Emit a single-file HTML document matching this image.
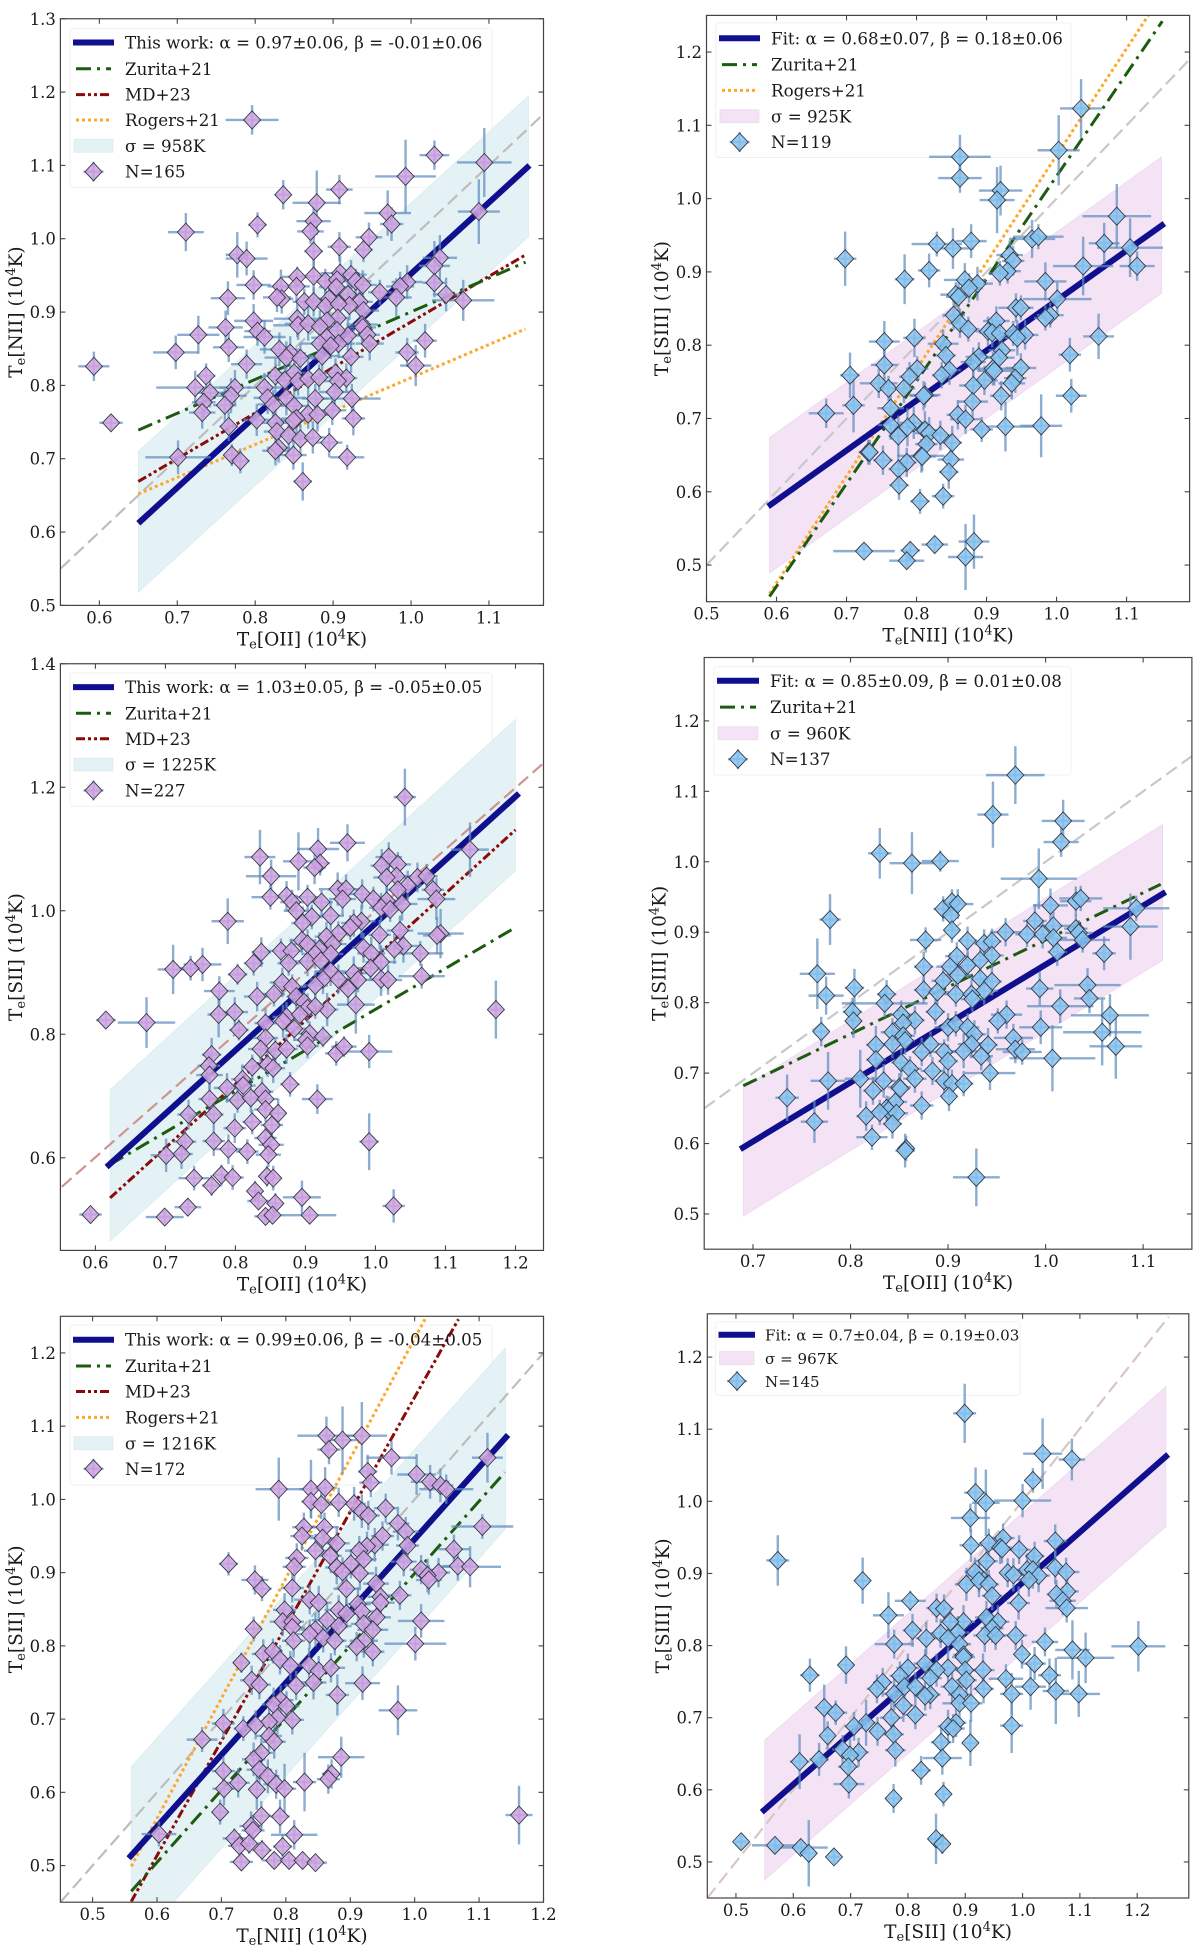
<!DOCTYPE html>
<html><head><meta charset="utf-8"><title>Electron temperature relations</title>
<style>html,body{margin:0;padding:0;background:#fff}svg{display:block}text{font-family:"DejaVu Serif","Liberation Serif",serif;fill:#1a1a1a}</style>
</head><body>
<svg id="fig" width="1200" height="1952" viewBox="0 0 1200 1952" xmlns="http://www.w3.org/2000/svg"></svg>
<script>
// Each point row: [x, y, xError, yError], in units of 10^4 K
const niiVsOiiPoints = [[.796,1.162,.034,.020],[1.094,1.104,.035,.047],[1.030,1.114,.019,.020],[.993,1.085,.039,.050],[.908,1.067,.017,.020],[.836,1.060,.010,.020],[.879,1.049,.031,.044],[1.087,1.037,.027,.044],[.970,1.035,.030,.031],[.875,1.024,.022,.023],[.975,1.020,.015,.023],[.803,1.019,.012,.017],[.711,1.009,.023,.026],[.871,1.010,.017,.017],[.946,1.002,.017,.020],[.908,.989,.015,.020],[.939,.985,.012,.017],[.875,.983,.012,.023],[.777,.978,.015,.031],[.789,.973,.027,.023],[1.037,.974,.022,.031],[1.030,.963,.020,.034],[.854,.948,.020,.014],[.909,.953,.025,.023],[.875,.949,.017,.023],[.923,.951,.020,.020],[.890,.942,.017,.017],[.798,.937,.022,.020],[.833,.935,.017,.023],[.853,.935,.017,.020],[.905,.944,.015,.017],[.929,.942,.020,.017],[.938,.937,.018,.020],[.904,.934,.022,.025],[.995,.941,.020,.023],[.986,.935,.018,.020],[1.030,.940,.015,.020],[.960,.927,.015,.017],[1.045,.924,.017,.023],[.919,.924,.020,.020],[1.067,.916,.040,.028],[.981,.920,.020,.026],[.765,.919,.022,.023],[.834,.918,.015,.020],[.828,.920,.018,.020],[.863,.914,.015,.018],[.875,.914,.020,.020],[.895,.918,.022,.025],[.934,.914,.017,.020],[.890,.908,.025,.023],[.921,.909,.018,.020],[.907,.911,.020,.022],[.939,.902,.020,.020],[.906,.892,.015,.022],[.798,.888,.025,.023],[.854,.891,.030,.025],[.855,.882,.032,.020],[.868,.884,.030,.023],[.892,.888,.018,.020],[.883,.880,.024,.022],[.937,.883,.020,.023],[.938,.879,.017,.020],[.762,.879,.022,.023],[.803,.874,.017,.020],[.812,.866,.027,.023],[.727,.869,.027,.026],[.944,.869,.016,.020],[.919,.868,.022,.023],[.892,.865,.020,.022],[.905,.875,.023,.020],[.947,.857,.018,.023],[.907,.857,.021,.020],[.883,.857,.025,.023],[.897,.854,.020,.018],[.766,.852,.020,.020],[.831,.849,.025,.023],[.698,.845,.029,.023],[.995,.845,.015,.020],[1.018,.861,.015,.023],[.886,.840,.022,.020],[.845,.844,.020,.023],[.840,.838,.028,.022],[.858,.837,.025,.020],[.923,.839,.016,.022],[.789,.829,.020,.020],[1.006,.827,.020,.028],[.593,.826,.020,.020],[.737,.813,.012,.017],[.826,.813,.017,.024],[.850,.817,.020,.022],[.903,.817,.018,.020],[.917,.810,.014,.020],[.838,.807,.017,.023],[.855,.806,.024,.020],[.868,.809,.021,.025],[.882,.811,.016,.018],[.906,.806,.018,.020],[.723,.797,.050,.023],[.774,.797,.020,.024],[.812,.797,.022,.020],[.902,.791,.020,.023],[.742,.790,.020,.020],[.769,.786,.020,.024],[.816,.783,.018,.022],[.877,.782,.017,.020],[.924,.782,.037,.020],[.840,.783,.025,.024],[.734,.777,.015,.020],[.761,.773,.015,.022],[.823,.774,.020,.020],[.850,.772,.017,.024],[.899,.766,.018,.020],[.732,.763,.017,.022],[.868,.761,.018,.020],[.880,.760,.017,.023],[.853,.755,.020,.025],[.802,.753,.017,.022],[.926,.755,.015,.023],[.615,.749,.015,.010],[.766,.744,.012,.020],[.826,.749,.018,.020],[.849,.752,.020,.022],[.828,.737,.017,.020],[.843,.732,.020,.024],[.858,.727,.018,.020],[.874,.729,.016,.022],[.895,.722,.017,.020],[.830,.715,.015,.020],[.826,.711,.017,.020],[.849,.705,.017,.020],[.770,.705,.010,.015],[.918,.702,.022,.017],[.701,.702,.042,.023],[.781,.697,.012,.017],[.861,.669,.012,.026]];
const siiiVsNiiPoints = [[1.035,1.123,.030,.040],[1.003,1.066,.030,.048],[.862,1.057,.044,.030],[.862,1.028,.031,.020],[.920,1.011,.031,.034],[.915,.998,.025,.045],[1.086,.976,.049,.044],[.965,.945,.033,.026],[.974,.948,.036,.017],[.878,.942,.022,.023],[.829,.938,.036,.017],[.852,.932,.030,.028],[1.068,.939,.022,.028],[1.105,.933,.047,.040],[1.038,.908,.043,.040],[1.115,.908,.025,.020],[.698,.918,.016,.037],[.818,.902,.016,.023],[.933,.923,.019,.020],[.938,.915,.016,.020],[.930,.901,.019,.017],[.919,.898,.016,.017],[.783,.890,.014,.034],[.869,.889,.030,.023],[.887,.884,.022,.023],[.875,.878,.020,.020],[.856,.869,.022,.017],[.860,.866,.018,.020],[.984,.887,.030,.026],[1.001,.863,.049,.023],[.942,.851,.025,.020],[.949,.851,.014,.017],[.853,.841,.016,.020],[.991,.841,.019,.017],[.984,.837,.016,.017],[.862,.830,.016,.020],[.874,.822,.016,.017],[.914,.833,.019,.020],[.902,.819,.018,.020],[.908,.817,.019,.020],[.919,.816,.020,.018],[.938,.816,.019,.017],[.955,.814,.019,.020],[.944,.810,.020,.024],[1.060,.812,.022,.031],[.797,.810,.016,.026],[.754,.805,.022,.028],[.838,.802,.022,.020],[.922,.793,.019,.017],[.842,.786,.014,.017],[1.019,.787,.016,.023],[.889,.784,.019,.020],[.918,.783,.022,.017],[.881,.777,.018,.020],[.754,.773,.019,.023],[.705,.759,.014,.031],[.801,.768,.016,.017],[.909,.768,.027,.023],[.911,.765,.024,.020],[.949,.769,.022,.020],[.847,.766,.016,.020],[.836,.759,.014,.018],[.790,.757,.015,.020],[.941,.755,.016,.020],[.897,.752,.019,.020],[.936,.748,.019,.022],[.746,.748,.027,.020],[.760,.741,.016,.017],[.881,.745,.020,.020],[.782,.741,.016,.020],[.812,.732,.022,.017],[.810,.731,.020,.020],[.921,.731,.016,.020],[1.021,.731,.022,.023],[.880,.723,.022,.023],[.710,.718,.016,.037],[.763,.714,.019,.020],[.671,.707,.025,.020],[.859,.705,.016,.020],[.870,.699,.022,.020],[.796,.694,.020,.022],[.763,.691,.018,.020],[.787,.688,.020,.026],[.893,.685,.016,.017],[.927,.689,.041,.034],[.978,.690,.030,.043],[.812,.684,.019,.026],[.818,.680,.020,.022],[.834,.677,.016,.020],[.774,.676,.014,.028],[.851,.667,.014,.023],[.814,.665,.016,.022],[.731,.654,.014,.017],[.733,.654,.012,.017],[.752,.643,.014,.020],[.849,.644,.019,.023],[.807,.649,.033,.023],[.808,.648,.020,.020],[.786,.640,.014,.020],[.774,.631,.014,.020],[.846,.627,.014,.023],[.775,.609,.014,.020],[.838,.594,.016,.017],[.805,.587,.014,.017],[.725,.519,.044,.010],[.791,.520,.014,.012],[.786,.506,.025,.010],[.826,.528,.019,.012],[.882,.532,.022,.037],[.870,.511,.025,.045]];
const siiVsOiiPoints = [[1.042,1.184,.016,.046],[.960,1.110,.025,.030],[1.135,1.099,.027,.044],[.918,1.100,.030,.034],[.835,1.087,.022,.044],[.890,1.080,.022,.047],[.921,1.077,.014,.020],[1.019,1.087,.019,.024],[.913,1.070,.016,.027],[1.009,1.073,.016,.027],[1.032,1.075,.019,.020],[1.030,1.056,.022,.024],[1.016,1.054,.019,.027],[.851,1.056,.036,.027],[1.060,1.054,.022,.024],[1.073,1.056,.016,.020],[1.046,1.041,.020,.024],[1.032,1.034,.017,.022],[.946,1.035,.027,.027],[.958,1.035,.025,.024],[1.082,1.034,.016,.024],[.873,1.024,.016,.024],[.850,1.022,.027,.020],[.903,1.022,.019,.020],[.953,1.019,.019,.027],[.981,1.027,.019,.024],[.997,1.019,.019,.020],[1.087,1.019,.027,.034],[.923,1.014,.016,.020],[1.016,1.016,.020,.024],[.881,1.014,.017,.020],[.887,1.000,.018,.024],[1.038,1.011,.022,.027],[1.008,1.005,.017,.024],[1.021,1.002,.019,.020],[.909,.990,.016,.020],[.936,.992,.019,.024],[.980,.983,.020,.027],[.969,.980,.018,.022],[.964,.973,.019,.020],[.896,.980,.016,.027],[.789,.983,.023,.037],[1.093,.963,.033,.040],[1.088,.960,.020,.030],[1.006,.961,.016,.024],[1.035,.968,.019,.024],[.947,.963,.020,.020],[.930,.958,.017,.024],[.895,.952,.018,.020],[.903,.946,.020,.024],[.983,.940,.016,.024],[1.040,.943,.022,.027],[1.027,.938,.020,.024],[.865,.935,.019,.020],[.880,.935,.016,.020],[.837,.933,.014,.024],[.920,.938,.017,.027],[.939,.946,.020,.022],[.914,.930,.020,.024],[.936,.930,.018,.020],[.994,.931,.020,.027],[1.064,.931,.033,.020],[.826,.915,.014,.020],[.876,.915,.016,.020],[.903,.918,.020,.024],[.922,.919,.017,.020],[1.008,.917,.022,.027],[.753,.913,.027,.027],[.711,.905,.022,.040],[.736,.907,.016,.020],[.803,.897,.014,.017],[.936,.902,.022,.024],[.969,.899,.020,.027],[.993,.907,.018,.020],[.925,.889,.019,.024],[.947,.889,.020,.024],[.975,.888,.022,.020],[1.008,.889,.016,.027],[1.018,.888,.020,.024],[1.066,.894,.033,.020],[.867,.884,.018,.024],[.881,.877,.020,.020],[.961,.874,.014,.027],[.914,.879,.018,.024],[.777,.870,.022,.024],[.831,.861,.019,.024],[.855,.865,.016,.020],[.887,.861,.014,.024],[.931,.840,.016,.027],[.972,.848,.027,.047],[.898,.852,.018,.020],[.903,.842,.016,.024],[.914,.845,.018,.020],[.776,.832,.016,.037],[.799,.836,.019,.024],[.873,.828,.020,.024],[.892,.832,.018,.020],[.868,.821,.017,.027],[.673,.819,.041,.041],[.615,.823,.014,.010],[1.172,.840,.008,.047],[.843,.818,.016,.024],[.805,.807,.014,.017],[.884,.809,.016,.020],[.906,.801,.016,.020],[.925,.796,.014,.017],[.843,.794,.018,.024],[.901,.791,.017,.020],[.903,.781,.016,.020],[.836,.776,.018,.024],[.857,.774,.020,.020],[.873,.776,.016,.024],[.944,.769,.016,.020],[.955,.780,.018,.017],[.991,.772,.033,.027],[.766,.767,.014,.027],[.762,.749,.016,.024],[.846,.751,.018,.020],[.854,.745,.017,.024],[.824,.747,.016,.020],[.763,.734,.019,.024],[.878,.719,.014,.020],[.810,.727,.016,.024],[.788,.713,.019,.024],[.811,.717,.018,.020],[.838,.707,.016,.024],[.917,.695,.022,.024],[.763,.695,.016,.027],[.803,.693,.017,.020],[.822,.697,.016,.024],[.843,.695,.018,.020],[.843,.678,.016,.020],[.861,.672,.011,.024],[.733,.670,.016,.024],[.769,.670,.014,.020],[.824,.658,.014,.020],[.852,.653,.016,.024],[.799,.648,.016,.024],[.843,.632,.016,.020],[.991,.626,.014,.046],[.728,.626,.016,.020],[.769,.627,.016,.024],[.790,.614,.019,.024],[.851,.621,.018,.020],[.817,.610,.016,.020],[.723,.606,.016,.024],[.701,.604,.022,.027],[.847,.605,.018,.020],[.741,.567,.022,.020],[.780,.572,.011,.017],[.796,.568,.016,.020],[.845,.570,.011,.017],[.854,.567,.012,.020],[.766,.555,.014,.017],[.828,.546,.011,.017],[.895,.536,.027,.027],[.833,.530,.016,.014],[.857,.526,.011,.017],[.732,.520,.019,.014],[1.026,.522,.016,.027],[.593,.508,.016,.010],[.699,.504,.027,.010],[.843,.505,.016,.010],[.853,.507,.016,.010],[.906,.507,.038,.010]];
const siiiVsOiiPoints = [[.969,1.123,.030,.041],[.946,1.067,.016,.047],[1.018,1.058,.022,.030],[1.016,1.028,.018,.021],[.830,1.012,.012,.036],[.863,.998,.023,.044],[.892,1.001,.019,.015],[.993,.976,.039,.043],[1.031,.944,.016,.021],[1.036,.948,.022,.018],[1.005,.938,.018,.024],[.895,.933,.010,.018],[.904,.943,.010,.018],[.910,.940,.016,.021],[.903,.924,.008,.018],[1.093,.934,.034,.018],[.779,.918,.011,.036],[.989,.916,.012,.024],[1.008,.909,.018,.020],[1.087,.908,.028,.047],[1.031,.905,.012,.020],[1.034,.899,.014,.018],[.904,.903,.008,.018],[.959,.900,.016,.020],[.981,.897,.012,.018],[.997,.897,.012,.020],[1.008,.892,.014,.018],[1.038,.889,.028,.018],[.920,.888,.010,.020],[.877,.889,.016,.018],[.937,.884,.010,.020],[.945,.887,.010,.018],[1.012,.872,.010,.020],[1.060,.870,.012,.024],[.909,.866,.012,.020],[.945,.867,.012,.018],[.875,.851,.010,.021],[.902,.851,.014,.020],[.920,.853,.012,.018],[.933,.860,.014,.020],[.910,.839,.014,.020],[.766,.841,.018,.050],[.895,.831,.012,.020],[.933,.834,.010,.018],[.945,.830,.010,.020],[1.043,.825,.034,.024],[.804,.821,.010,.027],[.837,.812,.010,.020],[.875,.818,.010,.020],[.889,.815,.012,.018],[.775,.810,.018,.027],[.994,.820,.014,.024],[.937,.817,.014,.020],[.908,.812,.012,.018],[.924,.812,.010,.020],[1.045,.806,.016,.021],[.835,.799,.044,.020],[.925,.805,.012,.018],[.802,.787,.010,.020],[.887,.787,.010,.018],[1.015,.795,.034,.024],[1.066,.782,.040,.030],[.852,.783,.012,.020],[.960,.783,.016,.020],[.951,.774,.010,.018],[.803,.774,.008,.024],[.866,.775,.010,.020],[.854,.771,.012,.020],[.770,.759,.008,.021],[.843,.758,.012,.020],[.900,.765,.014,.020],[.908,.770,.012,.018],[.920,.765,.012,.020],[.995,.765,.022,.024],[1.058,.758,.040,.047],[.927,.755,.012,.020],[.854,.753,.012,.018],[.856,.746,.010,.020],[.967,.750,.020,.020],[.826,.740,.010,.027],[.843,.741,.012,.020],[.882,.741,.012,.018],[.924,.741,.014,.020],[.941,.740,.010,.024],[1.072,.738,.027,.046],[.873,.730,.010,.020],[.896,.730,.012,.018],[.916,.731,.014,.024],[.969,.734,.020,.020],[.976,.730,.020,.018],[.934,.724,.012,.020],[.900,.717,.010,.024],[.826,.719,.010,.027],[1.007,.721,.044,.047],[.852,.715,.010,.020],[.861,.706,.012,.018],[.884,.703,.012,.020],[.943,.700,.026,.024],[.777,.689,.018,.041],[.810,.692,.016,.041],[.866,.692,.012,.020],[.896,.689,.010,.020],[.834,.689,.012,.024],[.904,.685,.012,.020],[.916,.685,.010,.018],[.850,.680,.012,.020],[.851,.678,.010,.018],[.823,.675,.010,.020],[.901,.667,.008,.021],[.735,.665,.012,.033],[.846,.659,.012,.020],[.873,.654,.012,.020],[.837,.650,.010,.018],[.839,.647,.012,.020],[.816,.639,.010,.021],[.830,.644,.012,.018],[.847,.643,.012,.020],[.763,.631,.014,.030],[.843,.628,.010,.021],[.822,.609,.016,.018],[.857,.593,.008,.018],[.856,.590,.010,.024],[.929,.552,.024,.041]];
const siiVsNiiPoints = [[.863,1.087,.045,.026],[.888,1.081,.024,.046],[.918,1.087,.039,.046],[.867,1.068,.018,.020],[.964,1.057,.039,.023],[1.113,1.057,.024,.034],[.927,1.038,.015,.023],[1.003,1.034,.030,.028],[1.024,1.024,.030,.023],[.932,1.023,.018,.020],[.839,1.014,.018,.040],[.861,1.016,.018,.028],[.789,1.014,.036,.043],[1.040,1.019,.020,.023],[1.049,1.014,.042,.020],[.839,.997,.015,.023],[.855,.993,.018,.020],[.882,.996,.021,.020],[.906,.994,.018,.023],[.918,.984,.020,.023],[.928,.978,.018,.020],[.955,.988,.018,.020],[.974,.967,.018,.023],[.828,.962,.018,.020],[.860,.962,.022,.020],[1.105,.963,.048,.017],[.986,.956,.020,.020],[.825,.950,.018,.020],[.857,.947,.020,.023],[.950,.950,.018,.020],[.879,.940,.020,.023],[.989,.937,.018,.020],[.938,.938,.022,.023],[.926,.936,.020,.020],[.846,.930,.018,.023],[.914,.930,.022,.020],[1.061,.932,.024,.020],[.869,.923,.018,.020],[.817,.920,.018,.020],[.921,.918,.020,.023],[.983,.915,.020,.020],[.711,.912,.015,.016],[1.067,.909,.024,.020],[1.086,.908,.048,.028],[.813,.908,.018,.020],[.901,.912,.020,.020],[.879,.907,.018,.023],[.888,.901,.020,.020],[.915,.899,.022,.023],[1.010,.904,.018,.020],[1.037,.900,.018,.020],[1.020,.896,.018,.023],[1.022,.890,.020,.020],[.752,.890,.021,.020],[.763,.878,.015,.017],[.810,.879,.018,.020],[.894,.878,.020,.020],[.940,.885,.020,.023],[.977,.869,.018,.020],[.947,.867,.020,.023],[.947,.859,.022,.020],[.837,.863,.024,.020],[.851,.859,.020,.023],[.882,.849,.022,.020],[.912,.857,.020,.023],[.918,.847,.022,.020],[.798,.849,.018,.023],[.894,.844,.020,.020],[.864,.835,.024,.023],[.941,.839,.022,.020],[.795,.833,.020,.020],[.810,.833,.018,.023],[1.010,.834,.036,.023],[.921,.830,.020,.020],[.750,.823,.012,.017],[.810,.825,.020,.020],[.846,.822,.022,.023],[.837,.816,.020,.020],[.935,.822,.024,.023],[.882,.827,.020,.020],[.812,.807,.018,.023],[.858,.811,.022,.020],[.876,.807,.018,.020],[.921,.807,.022,.023],[.910,.799,.018,.020],[1.001,.803,.048,.023],[.935,.792,.018,.020],[.765,.789,.018,.020],[.780,.793,.015,.017],[.791,.781,.018,.020],[.731,.777,.012,.014],[.807,.773,.020,.020],[.836,.774,.020,.023],[.851,.766,.018,.020],[.870,.770,.022,.020],[.747,.753,.018,.020],[.759,.747,.018,.020],[.816,.746,.018,.020],[.843,.750,.020,.023],[.919,.749,.027,.023],[.880,.733,.018,.028],[.792,.726,.020,.020],[.781,.720,.018,.023],[.801,.718,.020,.020],[.787,.702,.022,.023],[.810,.699,.018,.020],[.974,.712,.030,.034],[.774,.696,.018,.020],[.703,.694,.018,.020],[.734,.687,.015,.017],[.753,.692,.018,.020],[.670,.672,.024,.017],[.774,.677,.020,.020],[.782,.669,.018,.023],[.762,.654,.018,.020],[.750,.645,.018,.023],[.886,.648,.036,.028],[.759,.631,.020,.020],[.772,.622,.018,.023],[.703,.629,.018,.020],[.726,.613,.018,.020],[.704,.605,.018,.023],[.785,.611,.020,.020],[.798,.605,.018,.034],[.755,.604,.012,.028],[.829,.614,.018,.040],[.871,.625,.015,.020],[.866,.618,.018,.020],[.698,.573,.012,.017],[.762,.568,.015,.020],[.791,.567,.015,.023],[.746,.554,.018,.020],[.749,.548,.018,.020],[.603,.543,.027,.017],[.813,.542,.036,.020],[.720,.537,.018,.014],[.728,.527,.018,.017],[.743,.530,.018,.014],[.795,.526,.015,.017],[.763,.521,.015,.014],[.731,.505,.018,.010],[.782,.507,.018,.010],[.805,.507,.018,.010],[.826,.507,.018,.010],[.846,.504,.018,.008],[1.162,.569,.021,.040]];
const siiiVsSiiPoints = [[.899,1.122,.020,.041],[1.035,1.066,.034,.049],[1.086,1.058,.023,.029],[1.018,1.029,.010,.017],[.918,1.012,.020,.035],[.936,.998,.024,.046],[1.000,1.001,.050,.023],[.909,.977,.034,.020],[.966,.949,.020,.020],[1.057,.945,.020,.023],[.910,.939,.020,.023],[.941,.942,.017,.020],[.961,.936,.020,.023],[.964,.934,.018,.020],[.994,.933,.020,.020],[1.021,.924,.017,.020],[.573,.918,.020,.035],[.937,.917,.020,.023],[1.057,.908,.020,.023],[1.076,.902,.023,.020],[.974,.901,.013,.020],[.984,.898,.020,.023],[1.008,.905,.020,.023],[1.018,.905,.013,.026],[1.028,.897,.020,.023],[1.011,.891,.020,.023],[.721,.890,.013,.032],[.924,.897,.020,.023],[.917,.902,.018,.020],[.902,.885,.020,.023],[.924,.890,.020,.023],[.941,.885,.018,.020],[1.078,.875,.020,.023],[1.059,.871,.017,.020],[.947,.869,.018,.020],[1.070,.862,.023,.020],[.804,.862,.027,.014],[1.077,.852,.037,.020],[.993,.859,.020,.023],[.850,.852,.018,.020],[.863,.851,.017,.020],[.766,.842,.027,.032],[.897,.833,.020,.023],[.937,.839,.020,.023],[.874,.833,.018,.020],[.957,.833,.020,.023],[.808,.821,.017,.023],[.857,.817,.018,.020],[.887,.818,.020,.023],[.947,.824,.020,.020],[.832,.810,.018,.023],[.988,.814,.020,.020],[.934,.814,.020,.023],[.953,.814,.018,.020],[.870,.810,.020,.020],[1.039,.805,.023,.020],[.776,.802,.034,.020],[.890,.802,.020,.023],[1.087,.794,.030,.041],[1.202,.799,.047,.035],[.897,.787,.018,.020],[.897,.784,.020,.023],[.999,.788,.013,.020],[1.110,.783,.050,.035],[1.021,.775,.020,.023],[.692,.773,.013,.026],[.830,.775,.020,.020],[.870,.769,.018,.023],[.800,.769,.020,.020],[.850,.766,.020,.023],[.900,.766,.018,.020],[.931,.766,.020,.023],[.629,.759,.017,.023],[1.047,.759,.020,.023],[.786,.758,.018,.020],[.839,.755,.020,.023],[.971,.754,.030,.020],[.902,.752,.018,.023],[.756,.749,.017,.020],[.746,.740,.018,.020],[.794,.743,.020,.023],[.813,.743,.018,.020],[.877,.743,.020,.023],[.932,.740,.018,.020],[1.014,.743,.027,.032],[1.058,.737,.023,.046],[1.098,.733,.037,.032],[.981,.733,.020,.029],[.776,.733,.018,.023],[.839,.732,.018,.020],[.830,.730,.020,.020],[.890,.732,.020,.023],[.890,.720,.030,.023],[.910,.720,.020,.026],[.792,.717,.018,.023],[.654,.714,.017,.032],[.674,.707,.020,.017],[.813,.704,.020,.020],[.771,.700,.020,.023],[.884,.693,.018,.020],[.981,.689,.020,.038],[.727,.693,.017,.032],[.706,.688,.017,.020],[.870,.688,.018,.023],[.879,.685,.020,.020],[.747,.681,.013,.020],[.660,.675,.013,.020],[.775,.677,.018,.023],[.858,.666,.018,.020],[.909,.665,.013,.032],[.686,.656,.018,.020],[.778,.655,.018,.023],[.714,.652,.018,.020],[.699,.648,.018,.023],[.860,.644,.034,.023],[.611,.639,.017,.038],[.645,.642,.017,.023],[.696,.632,.018,.023],[.823,.627,.017,.020],[.697,.608,.027,.020],[.862,.594,.013,.017],[.775,.588,.013,.020],[.849,.532,.013,.035],[.860,.525,.012,.014],[.509,.528,.010,.010],[.568,.523,.040,.010],[.613,.520,.047,.010],[.627,.512,.013,.046],[.671,.507,.010,.010]];

// Fit and literature relations as [x, y] vertices, in units of 10^4 K
const p1Fit=[[.65,.612],[1.152,1.10]], p1BandUpper=[[.65,.71],[1.151,1.195]], p1BandLower=[[.65,.518],[1.151,1.003]], p1Zurita=[[.65,.739],[1.147,.968]], p1Md=[[.65,.669],[1.147,.978]], p1Rogers=[[.65,.652],[.828,.732],[.946,.786],[1.147,.877]], p1Unity=[[.55,.55],[1.17,1.17]];
const p2Fit=[[.588,.58],[1.154,.966]], p2BandUpper=[[.59,.674],[1.15,1.057]], p2BandLower=[[.59,.489],[1.15,.871]], p2Zurita=[[.59,.457],[1.151,1.242]], p2Rogers=[[.59,.461],[1.131,1.25]], p2Unity=[[.5,.5],[1.19,1.19]];
const p3Fit=[[.616,.585],[1.205,1.19]], p3BandUpper=[[.621,.71],[1.2,1.31]], p3BandLower=[[.621,.465],[1.2,1.065]], p3Zurita=[[.621,.589],[1.2,.973]], p3Md=[[.621,.535],[1.2,1.131]], p3Unity=[[.552,.553],[1.238,1.237]];
const p4Fit=[[.687,.592],[1.123,.957]], p4BandUpper=[[.69,.679],[1.12,1.053]], p4BandLower=[[.69,.497],[1.12,.86]], p4Zurita=[[.69,.682],[1.118,.968]], p4Unity=[[.65,.65],[1.15,1.15]];
const p5Fit=[[.556,.51],[1.145,1.088]], p5BandUpper=[[.56,.635],[1.141,1.207]], p5BandLower=[[.56,.385],[1.141,.96]], p5Zurita=[[.56,.465],[1.14,1.037]], p5Md=[[.56,.451],[1.068,1.246]], p5Rogers=[[.56,.499],[1.016,1.246]], p5Unity=[[.45,.45],[1.2,1.2]];
const p6Fit=[[.545,.569],[1.254,1.065]], p6BandUpper=[[.55,.669],[1.25,1.159]], p6BandLower=[[.55,.475],[1.25,.965]], p6Unity=[[.45,.45],[1.255,1.256]];

// Tick labels
const tickSetP1X=[.6,.7,.8,.9,1.0,1.1], tickSetP1Y=[.5,.6,.7,.8,.9,1.0,1.1,1.2,1.3];
const tickSetP2X=[.5,.6,.7,.8,.9,1.0,1.1], tickSetP2Y=[.5,.6,.7,.8,.9,1.0,1.1,1.2];
const tickSetP3X=[.6,.7,.8,.9,1.0,1.1,1.2], tickSetP3Y=[.6,.8,1.0,1.2,1.4];
const tickSetP4X=[.7,.8,.9,1.0,1.1], tickSetP4Y=[.5,.6,.7,.8,.9,1.0,1.1,1.2];
const tickSetP5X=[.5,.6,.7,.8,.9,1.0,1.1,1.2], tickSetP5Y=[.5,.6,.7,.8,.9,1.0,1.1,1.2];
const tickSetP6X=[.5,.6,.7,.8,.9,1.0,1.1,1.2], tickSetP6Y=[.5,.6,.7,.8,.9,1.0,1.1,1.2];

const NS='http://www.w3.org/2000/svg';
const fig=document.getElementById('fig');
const NAVY='#10108f',GREEN='#1c5c0e',RED='#8b0a0a',ORANGE='#ffa72a',PINK='#f3e3f5',AQUA='#e5f2f5',VIOLET='rgba(208,162,226,.85)',SKY='rgba(135,195,240,.85)';
function make(tag,attrs,parent){const e=document.createElementNS(NS,tag);for(const k in attrs)e.setAttribute(k,attrs[k]);parent.appendChild(e);return e;}

const panels=[
{id:'nii-oii',L:60.4,R:543.5,T:18.75,B:605.4,x0:.55,x1:1.17,y0:.5,y1:1.3,xt:tickSetP1X,yt:tickSetP1Y,xl:'[OII] (10',yl:'[NII] (10',pts:niiVsOiiPoints,fit:p1Fit,up:p1BandUpper,lo:p1BandLower,zur:p1Zurita,md:p1Md,rog:p1Rogers,uni:p1Unity,uniC:'#bdbdbd',band:AQUA,mk:VIOLET,
 leg:{x0:70,x1:492,y0:28.3,y1:187.5,hx0:73,hx1:114,tx:125,mx:93.5,fs:16.7,rows:[42.5,68.75,94.6,120,145.8,171.7],labels:['This work: α = 0.97±0.06, β = -0.01±0.06','Zurita+21','MD+23','Rogers+21','σ = 958K','N=165'],kinds:['fit','zur','md','rog','band','pt']}},
{id:'siii-nii',L:706.5,R:1189.6,T:15.4,B:601.7,x0:.5,x1:1.19,y0:.45,y1:1.25,xt:tickSetP2X,yt:tickSetP2Y,xl:'[NII] (10',yl:'[SIII] (10',pts:siiiVsNiiPoints,fit:p2Fit,up:p2BandUpper,lo:p2BandLower,zur:p2Zurita,rog:p2Rogers,uni:p2Unity,uniC:'#c8c8c8',band:PINK,mk:SKY,
 leg:{x0:715.8,x1:1071,y0:22.9,y1:157.5,hx0:719,hx1:760,tx:771,mx:739.6,fs:16.7,rows:[38.3,64.6,90.4,116.3,142.1],labels:['Fit: α = 0.68±0.07, β = 0.18±0.06','Zurita+21','Rogers+21','σ = 925K','N=119'],kinds:['fit','zur','rog','band','pt']}},
{id:'sii-oii',L:60.4,R:543.5,T:663.75,B:1250.4,x0:.55,x1:1.24,y0:.45,y1:1.4,xt:tickSetP3X,yt:tickSetP3Y,xl:'[OII] (10',yl:'[SII] (10',pts:siiVsOiiPoints,fit:p3Fit,up:p3BandUpper,lo:p3BandLower,zur:p3Zurita,md:p3Md,uni:p3Unity,uniC:'#cf9390',band:AQUA,mk:VIOLET,
 leg:{x0:70,x1:492,y0:672.9,y1:806.25,hx0:73,hx1:114,tx:125,mx:93.5,fs:16.7,rows:[687.1,713.3,738.75,764.6,790.4],labels:['This work: α = 1.03±0.05, β = -0.05±0.05','Zurita+21','MD+23','σ = 1225K','N=227'],kinds:['fit','zur','md','band','pt']}},
{id:'siii-oii',L:704.2,R:1191.9,T:657.5,B:1249.2,x0:.65,x1:1.15,y0:.45,y1:1.29,xt:tickSetP4X,yt:tickSetP4Y,xl:'[OII] (10',yl:'[SIII] (10',pts:siiiVsOiiPoints,fit:p4Fit,up:p4BandUpper,lo:p4BandLower,zur:p4Zurita,uni:p4Unity,uniC:'#c8c8c8',band:PINK,mk:SKY,
 leg:{x0:713.8,x1:1071,y0:666.7,y1:775,hx0:717,hx1:759,tx:770,mx:738,fs:16.7,rows:[680.8,707.1,733.3,759.2],labels:['Fit: α = 0.85±0.09, β = 0.01±0.08','Zurita+21','σ = 960K','N=137'],kinds:['fit','zur','band','pt']}},
{id:'sii-nii',L:60.4,R:543.5,T:1316.3,B:1902.2,x0:.45,x1:1.2,y0:.45,y1:1.25,xt:tickSetP5X,yt:tickSetP5Y,xl:'[NII] (10',yl:'[SII] (10',pts:siiVsNiiPoints,fit:p5Fit,up:p5BandUpper,lo:p5BandLower,zur:p5Zurita,md:p5Md,rog:p5Rogers,uni:p5Unity,uniC:'#bdbdbd',band:AQUA,mk:VIOLET,
 leg:{x0:70,x1:492,y0:1325,y1:1485,hx0:73,hx1:114,tx:125,mx:93.5,fs:16.7,rows:[1339.7,1366,1391.5,1417.4,1443.3,1468.8],labels:['This work: α = 0.99±0.06, β = -0.04±0.05','Zurita+21','MD+23','Rogers+21','σ = 1216K','N=172'],kinds:['fit','zur','md','rog','band','pt']}},
{id:'siii-sii',L:707.3,R:1188.8,T:1313.8,B:1898,x0:.45,x1:1.29,y0:.45,y1:1.26,xt:tickSetP6X,yt:tickSetP6Y,xl:'[SII] (10',yl:'[SIII] (10',pts:siiiVsSiiPoints,fit:p6Fit,up:p6BandUpper,lo:p6BandLower,uni:p6Unity,uniC:'#d9c6c4',band:PINK,mk:SKY,
 leg:{x0:715.4,x1:1020,y0:1321.7,y1:1395.3,hx0:718.5,hx1:755,tx:765,mx:737,fs:15.1,rows:[1334.7,1358.1,1381.1],labels:['Fit: α = 0.7±0.04, β = 0.19±0.03','σ = 967K','N=145'],kinds:['fit','band','pt']}}
];

const STY={
 fit:{c:NAVY,w:6,d:''},
 zur:{c:GREEN,w:3,d:'15 6 3 6'},
 md:{c:RED,w:3,d:'9 3 3 3 3 3'},
 rog:{c:ORANGE,w:3,d:'3 3'}
};

function axisLabel(parent,x,y,body,rotate){
 const t=make('text',{x:x,y:y,'text-anchor':'middle','font-size':18.5},parent);
 if(rotate)t.setAttribute('transform','rotate(-90 '+x+' '+y+')');
 const a=document.createElementNS(NS,'tspan');a.textContent='T';t.appendChild(a);
 const b=document.createElementNS(NS,'tspan');b.textContent='e';b.setAttribute('font-size','13');b.setAttribute('dy','3');t.appendChild(b);
 const c=document.createElementNS(NS,'tspan');c.textContent=body;c.setAttribute('dy','-3');t.appendChild(c);
 const d=document.createElementNS(NS,'tspan');d.textContent='4';d.setAttribute('font-size','13');d.setAttribute('dy','-7');t.appendChild(d);
 const e=document.createElementNS(NS,'tspan');e.textContent='K)';e.setAttribute('dy','7');t.appendChild(e);
 return t;
}

panels.forEach(function(p,pi){
 const sx=v=>p.L+(v-p.x0)/(p.x1-p.x0)*(p.R-p.L);
 const sy=v=>p.B-(v-p.y0)/(p.y1-p.y0)*(p.B-p.T);
 const g=make('g',{},fig);
 
 
 const clip=make('clipPath',{id:'clip'+pi},g);
 make('rect',{x:p.L,y:p.T,width:p.R-p.L,height:p.B-p.T},clip);
 const plot=make('g',{'clip-path':'url(#clip'+pi+')'},g);
 
 

 // legend frame beneath data
 const lg=p.leg;
 const frame=make('rect',{x:lg.x0,y:lg.y0,width:lg.x1-lg.x0,height:lg.y1-lg.y0,rx:3,fill:'#fff',stroke:'#f1f1f1','stroke-width':1},g);
 
 
 plot.parentNode.insertBefore(frame,plot);

 // scatter band
 const bandPts=p.up.concat(p.lo.slice().reverse()).map(q=>sx(q[0])+','+sy(q[1])).join(' ');
 const band=make('polygon',{points:bandPts,fill:p.band,stroke:p.band==PINK?'#ecd6ef':'#d8eaef','stroke-width':.7},plot);
 
 

 // unity line
 const uni=make('polyline',{points:p.uni.map(q=>sx(q[0])+','+sy(q[1])).join(' '),fill:'none',stroke:p.uniC,'stroke-width':2.2,'stroke-dasharray':'13 6'},plot);
 
 

 // literature relations
 ['rog','md','zur'].forEach(function(k){
  if(!p[k])return;
  const s=STY[k];
  const ln=make('polyline',{points:p[k].map(q=>sx(q[0])+','+sy(q[1])).join(' '),fill:'none',stroke:s.c,'stroke-width':s.w,'stroke-dasharray':s.d},plot);
  
  
 });

 // fit line
 const fit=make('polyline',{points:p.fit.map(q=>sx(q[0])+','+sy(q[1])).join(' '),fill:'none',stroke:NAVY,'stroke-width':6},plot);
 
 

 // error bars first, then markers
 const bars=make('g',{stroke:'rgba(95,140,190,.72)','stroke-width':2.4,fill:'none'},plot);
 
 
 p.pts.forEach(function(r){
  const h=make('line',{x1:sx(r[0]-r[2]),x2:sx(r[0]+r[2]),y1:sy(r[1]),y2:sy(r[1])},bars);
  
  
  const v=make('line',{x1:sx(r[0]),x2:sx(r[0]),y1:sy(r[1]-r[3]),y2:sy(r[1]+r[3])},bars);
  
  
 });
 const marks=make('g',{},plot);
 
 
 p.pts.forEach(function(r){
  const cx=sx(r[0]),cy=sy(r[1]),mx=8.5,my=9;
  const d=make('polygon',{points:[cx,cy-my,cx+mx,cy,cx,cy+my,cx-mx,cy].join(' '),fill:p.mk,stroke:'#343a46','stroke-width':.9},marks);
  
  
 });

 // axes frame and ticks
 const box=make('rect',{x:p.L,y:p.T,width:p.R-p.L,height:p.B-p.T,fill:'none',stroke:'#444','stroke-width':1.2},g);
 
 
 const ticks=make('g',{stroke:'#444','stroke-width':1.1},g);
 
 
 p.xt.forEach(function(v){
  const x=sx(v);
  make('line',{x1:x,x2:x,y1:p.B,y2:p.B-5},ticks);
  make('line',{x1:x,x2:x,y1:p.T,y2:p.T+5},ticks);
  const t=make('text',{x:x,y:p.B+18,'text-anchor':'middle','font-size':16.5},g);
  t.textContent=v.toFixed(1);
  
  
 });
 p.yt.forEach(function(v){
  const y=sy(v);
  make('line',{x1:p.L,x2:p.L+5,y1:y,y2:y},ticks);
  make('line',{x1:p.R,x2:p.R-5,y1:y,y2:y},ticks);
  const t=make('text',{x:p.L-4.5,y:y+6,'text-anchor':'end','font-size':16.5},g);
  t.textContent=v.toFixed(1);
  
  
 });
 const xTitle=axisLabel(g,(p.L+p.R)/2,p.B+40,p.xl,false);
 
 
 const yTitle=axisLabel(g,p.L-38.5,(p.T+p.B)/2,p.yl,true);
 
 

 // legend entries
 lg.labels.forEach(function(txt,i){
  const y=lg.rows[i],k=lg.kinds[i];
  const en=make('g',{},g);
  
  
  if(k=='band'){
   make('rect',{x:lg.hx0+1,y:y-6.5,width:lg.hx1-lg.hx0-2,height:13,fill:p.band,stroke:p.band==PINK?'#ecd6ef':'#d8eaef','stroke-width':.7},en);
  }else if(k=='pt'){
   const mx=8.5,my=9;
   make('line',{x1:lg.mx-10,x2:lg.mx+10,y1:y,y2:y,stroke:'rgba(95,140,190,.72)','stroke-width':2.4},en);
   make('line',{x1:lg.mx,x2:lg.mx,y1:y-10,y2:y+10,stroke:'rgba(95,140,190,.72)','stroke-width':2.4},en);
   make('polygon',{points:[lg.mx,y-my,lg.mx+mx,y,lg.mx,y+my,lg.mx-mx,y].join(' '),fill:p.mk,stroke:'#343a46','stroke-width':.9},en);
  }else{
   const s=STY[k];
   make('line',{x1:k=='fit'?lg.hx0:lg.hx0+3,x2:k=='fit'?lg.hx1:lg.hx1-3,y1:y,y2:y,stroke:s.c,'stroke-width':k=='fit'?6:3,'stroke-dasharray':s.d},en);
  }
  const t=make('text',{x:lg.tx,y:y+6,'font-size':lg.fs},en);
  t.textContent=txt;
 });
});
</script>
</body></html>
